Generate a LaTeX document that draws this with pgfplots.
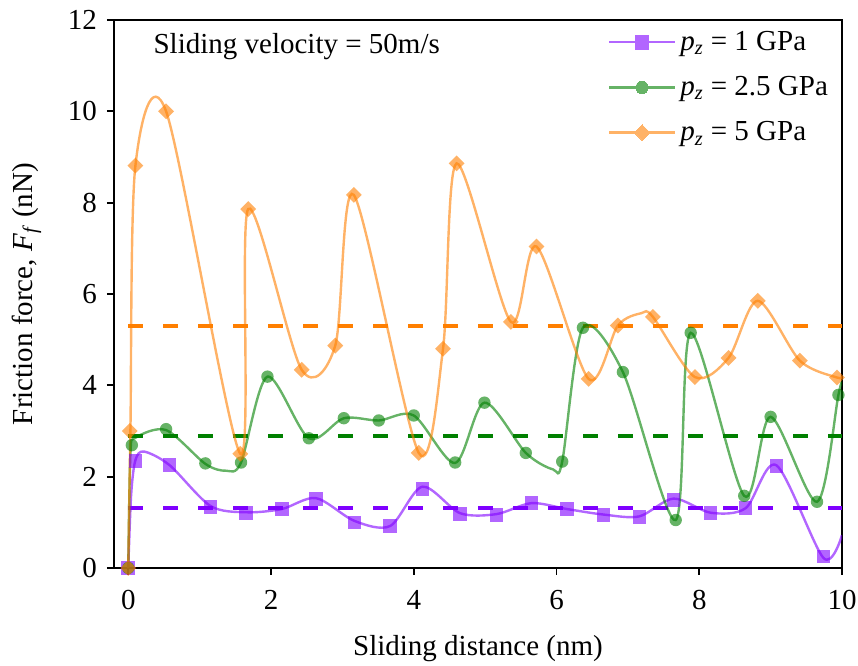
\documentclass[border=0pt]{standalone}
\usepackage{pgfplots}
\pgfplotsset{compat=1.18}
\usepackage{pgfplotstable}
\usepackage{fontspec}
\setmainfont{Liberation Serif}
\usetikzlibrary{calc}
\newcommand{\fsz}{\fontsize{14.5}{17}\selectfont}
\definecolor{cpur}{RGB}{127,0,255}
\definecolor{cgrn}{RGB}{0,128,0}
\definecolor{corg}{RGB}{255,127,0}

% markers
\pgfplotstableread{
x y
0 0
0.10 2.34
0.58 2.25
1.15 1.33
1.65 1.20
2.15 1.29
2.63 1.51
3.17 1.00
3.67 0.92
4.12 1.73
4.65 1.18
5.16 1.16
5.65 1.42
6.15 1.29
6.66 1.16
7.16 1.12
7.64 1.49
8.16 1.20
8.65 1.31
9.08 2.23
9.74 0.25
}\purM
\pgfplotstableread{
x y
0 0
0.05 2.69
0.53 3.04
1.08 2.29
1.58 2.31
1.95 4.19
2.53 2.84
3.02 3.28
3.51 3.23
4.00 3.34
4.58 2.31
4.99 3.62
5.57 2.52
6.08 2.33
6.37 5.26
6.93 4.29
7.67 1.05
7.88 5.15
8.63 1.58
9.00 3.31
9.65 1.45
9.95 3.79
}\grnM
\pgfplotstableread{
x y
0 0
0.02 3.00
0.10 8.81
0.53 10.00
1.57 2.50
1.68 7.86
2.43 4.34
2.90 4.87
3.16 8.17
4.07 2.52
4.41 4.80
4.60 8.86
5.36 5.39
5.72 7.04
6.45 4.14
6.86 5.31
7.35 5.50
7.94 4.18
8.41 4.60
8.82 5.85
9.41 4.54
9.93 4.17
}\orgM
% curves
\pgfplotstableread{
x y
0 0
0.04 1.6
0.10 2.36
0.22 2.55
0.58 2.25
1.15 1.36
1.65 1.22
2.15 1.29
2.63 1.53
3.17 1.03
3.67 0.92
4.12 1.78
4.65 1.20
5.16 1.18
5.65 1.42
6.15 1.29
6.66 1.17
7.16 1.13
7.64 1.52
8.16 1.21
8.65 1.31
9.08 2.25
9.74 0.22
10.0 0.72
}\purC
\pgfplotstableread{
x y
0 0
0.03 2.50
0.10 2.85
0.53 3.02
1.08 2.28
1.37 2.13
1.58 2.31
1.95 4.19
2.53 2.84
3.02 3.28
3.51 3.23
4.00 3.34
4.58 2.30
4.99 3.62
5.57 2.52
5.95 2.16
6.08 2.33
6.37 5.26
6.93 4.29
7.67 1.05
7.88 5.15
8.63 1.58
9.00 3.31
9.65 1.45
9.95 3.79
10.0 4.05
}\grnC
\pgfplotstableread{
x y
0 0
0.03 3.00
0.10 8.81
0.53 10.00
1.57 2.50
1.68 7.86
2.43 4.34
2.90 4.87
3.16 8.17
4.07 2.52
4.41 4.80
4.60 8.86
5.36 5.39
5.72 7.04
6.45 4.14
6.86 5.31
7.19 5.58
7.35 5.50
7.94 4.18
8.41 4.60
8.82 5.85
9.41 4.54
9.93 4.17
10.0 4.20
}\orgC

\begin{document}
\begin{tikzpicture}
\begin{axis}[
  scale only axis,
  width=364pt, height=274pt,
  xmin=-0.2, xmax=10, ymin=0, ymax=12,
  xtick={0,2,...,10}, ytick={0,2,...,12},
  axis line style={line width=0.9pt},
  tick style={line width=0.9pt, black},
  tick align=outside, major tick length=3.5pt,
  xtick pos=bottom, ytick pos=left,
  /pgf/number format/assume math mode=true,
  tick label style={font=\fsz},
  xticklabel style={yshift=-4pt},
  yticklabel style={xshift=-1.5pt},
  label style={font=\fsz},
  xlabel={Sliding distance (nm)},
  ylabel={Friction force, \textit{F}\textsubscript{\textit{f}} (nN)},
  xlabel style={yshift=-6pt},
  ylabel style={yshift=6.5pt},
  legend style={draw=none, fill=none, font=\fsz, at={(0.995,0.995)}, anchor=north east, row sep=7.5pt},
  legend cell align=left,
  legend image code/.code={\draw[mark repeat=2,mark phase=2] plot coordinates {(0pt,0pt) (16.5pt,0pt) (33pt,0pt)};},
]
% dashed averages
\addplot[forget plot, cpur, line width=2pt, dash pattern=on 7.2pt off 10.3pt] coordinates {(0,1.31) (10,1.31)};
\addplot[forget plot, cgrn, line width=2pt, dash pattern=on 7.2pt off 10.3pt] coordinates {(0,2.90) (10,2.90)};
\addplot[forget plot, corg, line width=2pt, dash pattern=on 7.2pt off 10.3pt] coordinates {(0,5.30) (10,5.30)};
% curves
\addplot[forget plot, smooth, tension=0.5, cpur, line width=1.2pt, opacity=0.6, no markers] table {\purC};
\addplot[forget plot, smooth, tension=0.5, cgrn, line width=1.2pt, opacity=0.6, no markers] table {\grnC};
\addplot[forget plot, smooth, tension=0.5, corg, line width=1.2pt, opacity=0.6, no markers] table {\orgC};
% markers
\addplot[forget plot, only marks, color=cpur, mark=square*, mark size=3.4pt, mark options={fill=cpur, fill opacity=0.6, draw opacity=0}] table {\purM};
\addplot[forget plot, only marks, color=cgrn, mark=*, mark size=3.1pt, mark options={fill=cgrn, fill opacity=0.6, draw opacity=0}] table {\grnM};
\addplot[forget plot, only marks, color=corg, mark=square*, mark size=2.8pt, mark options={rotate=45, fill=corg, fill opacity=0.6, draw opacity=0}] table {\orgM};
% legend
\addlegendimage{cpur!60, line width=1.2pt, mark=square*, mark size=3.4pt, mark options={draw=cpur!60, line width=0pt, fill=cpur!60}}
\addlegendentry{\textit{p}\textsubscript{\textit{z}} = 1 GPa}
\addlegendimage{cgrn!60, line width=1.2pt, mark=*, mark size=3.1pt, mark options={draw=cgrn!60, line width=0pt, fill=cgrn!60}}
\addlegendentry{\textit{p}\textsubscript{\textit{z}} = 2.5 GPa}
\addlegendimage{corg!60, line width=1.2pt, mark=square*, mark size=2.8pt, mark options={rotate=45, draw=corg!60, line width=0pt, fill=corg!60}}
\addlegendentry{\textit{p}\textsubscript{\textit{z}} = 5 GPa}
\node[font=\fsz] at (rel axis cs:0.251,0.951) {Sliding velocity = 50m/s};
\end{axis}
\pgfresetboundingbox
\path ($(current axis.south west)+(-57pt,-49pt)$) rectangle ($(current axis.north east)+(8pt,10pt)$);
\end{tikzpicture}
\end{document}
